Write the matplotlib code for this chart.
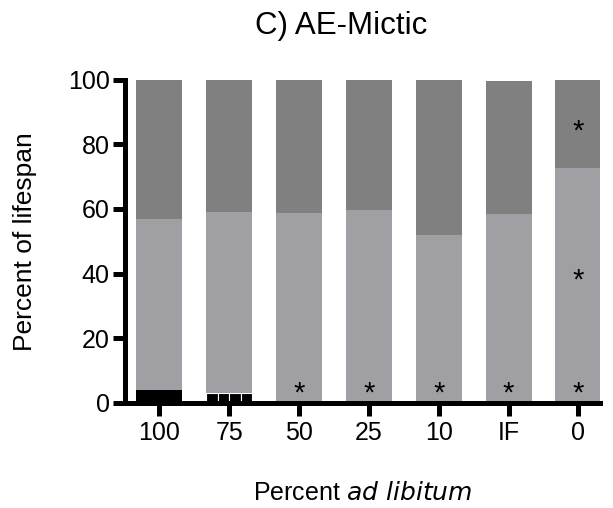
import numpy as np
import matplotlib.pyplot as plt

plt.rcParams['font.family'] = ['Liberation Sans', 'DejaVu Sans']

# data
groups = ['100', '75', '50', '25', '10', 'IF', '0']
black_part = [4.0, 3.0, 0.0, 0.0, 0.0, 0.0, 0.0]
light_top = [57.0, 59.2, 58.8, 59.7, 52.0, 58.5, 72.7]
dark_top = [100.0, 100.0, 100.0, 100.0, 100.0, 99.6, 100.0]
star_pos = [(2, 3.0), (3, 3.0), (4, 3.0), (5, 3.0), (6, 3.0), (6, 38.0), (6, 84.0)]

x = np.arange(len(groups))
w = 0.66
light = np.array(light_top) - np.array(black_part)
dark = np.array(dark_top) - np.array(light_top)

fig = plt.figure(figsize=(6.13, 5.08), dpi=100)
ax = fig.add_axes([0.204, 0.207, 0.775, 0.636])

ax.bar(x[[0]], black_part[0], w, color='black', linewidth=0)
# the 75 bar's black part is split in four little blocks
sub = w / 4
ax.bar(x[1] - w / 2 + sub * (np.arange(4) + 0.5), [black_part[1]] * 4, sub,
       color='black', edgecolor='white', linewidth=0.8)
ax.bar(x, light, w, bottom=black_part, color='#a0a0a4', linewidth=0)
ax.bar(x, dark, w, bottom=light_top, color='#808080', linewidth=0)

for i, yv in star_pos:
    ax.text(i, yv, '*', ha='center', va='center', fontsize=21)

ax.set_xlim(-0.49, 6.31)
ax.set_ylim(0, 100)
ax.set_yticks([0, 20, 40, 60, 80, 100])
ax.set_xticks(x)
ax.set_xticklabels(groups)
ax.tick_params(width=3.6, length=9, labelsize=18, direction='out', pad=2)
ax.tick_params(axis='x', pad=4)
for s in ['top', 'right']:
    ax.spines[s].set_visible(False)
for s in ['left', 'bottom']:
    ax.spines[s].set_linewidth(3.6)
ax.spines['left'].set_bounds(0, 100)

ax.set_ylabel('Percent of lifespan', fontsize=19, labelpad=22)
ax.set_xlabel('Percent $\\it{ad\\ libitum}$', fontsize=18, labelpad=26)
ax.set_title('C) AE-Mictic', fontsize=22.5, pad=33, x=0.455)

fig.savefig('out.png', dpi=100)
